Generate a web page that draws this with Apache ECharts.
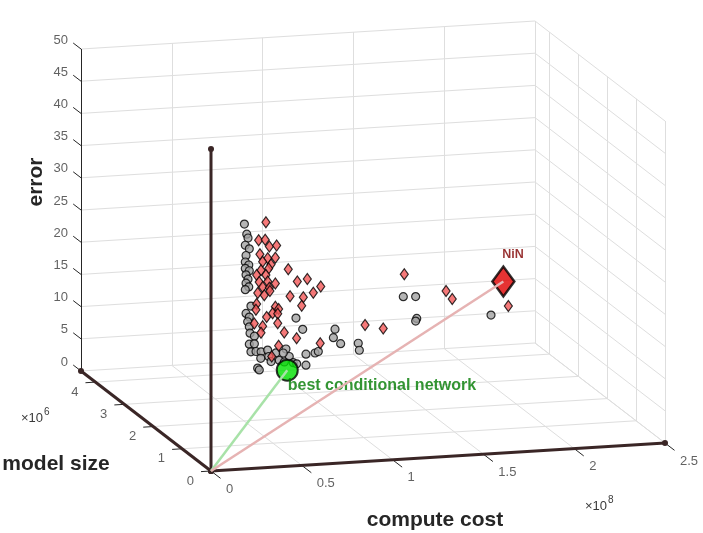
<!DOCTYPE html>
<html>
<head>
<meta charset="utf-8">
<script src="https://cdn.jsdelivr.net/npm/echarts@6/dist/echarts.min.js"></script>
<style>
  html, body { margin: 0; padding: 0; background: #fff; }
  #chart { width: 703px; height: 533px; }
</style>
</head>
<body>
<div id="chart"></div>
<script>
// ---------------- data (compute cost x1e8, model size x1e6, error %) ----------------
var costTicks  = [0, 0.5, 1, 1.5, 2, 2.5];
var modelTicks = [0, 1, 2, 3, 4];
var errorTicks = [0, 5, 10, 15, 20, 25, 30, 35, 40, 45, 50];

// conditional networks (grey circles)
var grayCost  = [0.343,0.356,0.363,0.348,0.370,0.352,0.348,0.367,0.348,0.370,0.352,0.363,0.352,0.367,0.348,
                 0.379,0.352,0.370,0.361,0.370,0.374,0.398,0.370,0.398,0.379,0.407,0.435,0.471,0.477,0.517,
                 0.535,0.416,0.425,0.572,0.590,0.612,0.490,0.563,0.627,0.664,0.682,0.732,0.750,0.842,0.833,
                 0.873,0.970,0.976,1.218,1.286,1.292,1.286,1.701,0.631,0.433,0.557,0.682];
var grayModel = [1.0,1.0,1.0,1.0,1.0,1.0,1.0,1.0,1.0,1.0,1.0,1.0,1.0,1.0,1.0,
                 1.0,1.0,1.0,1.0,1.0,1.0,1.0,1.0,1.0,1.0,1.0,1.0,1.0,1.0,1.0,
                 1.0,1.0,1.0,1.0,1.0,1.0,1.0,1.0,1.0,1.0,1.0,1.0,1.0,1.0,1.0,
                 1.0,1.0,1.0,1.0,1.0,1.0,1.0,1.0,1.0,1.0,1.0,1.0];
var grayError = [34.3,32.7,32.1,31.0,30.4,29.4,28.4,27.9,27.4,27.0,26.4,25.7,25.1,24.5,24.1,
                 21.5,20.4,19.8,19.1,18.3,17.3,16.8,15.6,15.6,14.4,14.4,14.3,14.5,13.5,14.0,
                 12.8,11.8,11.5,14.5,13.3,12.3,12.7,12.5,19.2,17.4,11.8,13.6,13.8,17.1,15.8,
                 14.8,14.7,13.6,21.5,21.4,18.0,17.6,17.8,12.1,13.3,13.9,13.5];

// other networks (red diamonds)
var redCost  = [0.541,0.501,0.537,0.560,0.600,0.508,0.551,0.523,0.593,0.569,0.556,0.514,0.664,0.490,0.541,
                0.504,0.551,0.593,0.523,0.560,0.714,0.769,0.843,0.802,0.674,0.747,0.496,0.532,0.563,0.738,
                0.490,0.486,0.593,0.611,0.578,0.545,0.606,0.477,0.523,0.606,0.514,0.642,0.710,0.611,0.840,
                0.573,1.303,1.533,1.567,1.087,1.187,1.876];
var redModel = [1.5,1.5,1.5,1.5,1.5,1.5,1.5,1.5,1.5,1.5,1.5,1.5,1.5,1.5,1.5,
                1.5,1.5,1.5,1.5,1.5,1.5,1.5,1.5,1.5,1.5,1.5,1.5,1.5,1.5,1.5,
                1.5,1.5,1.5,1.5,1.5,1.5,1.5,1.5,1.5,1.5,1.5,1.5,1.5,1.5,1.5,
                1.5,1.5,1.5,1.5,1.5,1.5,1.5];
var redError = [32.5,29.8,29.8,28.7,28.8,27.6,26.9,26.4,26.9,25.9,25.3,25.1,25.0,24.4,24.3,
                23.3,23.3,22.9,22.5,22.3,23.0,23.3,22.0,21.1,20.8,20.5,21.6,21.2,21.8,19.2,
                19.9,19.0,19.3,18.9,18.3,17.8,18.2,16.9,16.4,16.7,15.4,15.2,14.2,13.2,13.2,
                11.6,23.1,20.1,18.8,15.6,14.9,17.2];

var bestPoint = [0.579, 1.0, 11.2];   // best conditional network
var ninPoint  = [1.769, 1.0, 22.9];   // NiN

// ---------------- view (orthographic, MATLAB default-like) ----------------
var COST_MAX = 2.5, MODEL_MAX = 4.5, ERR_MAX = 50;
var O = [211, 471], EX = [454, -28], EY = [-130, -100], EZ = [0, -322];
function proj(c, m, e) {
    var a = c / COST_MAX, b = m / MODEL_MAX, d = e / ERR_MAX;
    return [O[0] + EX[0] * a + EY[0] * b + EZ[0] * d,
            O[1] + EX[1] * a + EY[1] * b + EZ[1] * d];
}
function seg(p, q) { return { coords: [proj(p[0], p[1], p[2]), proj(q[0], q[1], q[2])] }; }

// grid on back wall, side wall and floor
var gridSegs = [];
costTicks.forEach(function (c) {
    gridSegs.push(seg([c, MODEL_MAX, 0], [c, MODEL_MAX, ERR_MAX]));
    gridSegs.push(seg([c, 0, 0], [c, MODEL_MAX, 0]));
});
modelTicks.forEach(function (m) {
    gridSegs.push(seg([COST_MAX, m, 0], [COST_MAX, m, ERR_MAX]));
    gridSegs.push(seg([0, m, 0], [COST_MAX, m, 0]));
});
errorTicks.forEach(function (e) {
    gridSegs.push(seg([0, MODEL_MAX, e], [COST_MAX, MODEL_MAX, e]));
    gridSegs.push(seg([COST_MAX, 0, e], [COST_MAX, MODEL_MAX, e]));
});

// tick marks + z ruler
var tickSegs = [seg([0, MODEL_MAX, 0], [0, MODEL_MAX, ERR_MAX])];
costTicks.forEach(function (c) { tickSegs.push(seg([c, 0, 0], [c, -0.33, 0])); });
modelTicks.forEach(function (m) { tickSegs.push(seg([0, m, 0], [-0.055, m, 0])); });
errorTicks.forEach(function (e) { tickSegs.push(seg([0, MODEL_MAX, e], [0, MODEL_MAX + 0.27, e])); });

function pts(cs, ms, es) {
    return cs.map(function (c, i) { return proj(c, ms[i], es[i]); });
}

var FONT = 'Liberation Sans';
function tickLabels(items, pos, align) {
    return {
        type: 'scatter', symbolSize: 0.1, silent: true, z: 5,
        itemStyle: { color: 'transparent' },
        data: items,
        label: {
            show: true, formatter: '{b}', position: pos, align: align, verticalAlign: 'middle',
            fontFamily: FONT, fontSize: 13, color: '#3a3a3a'
        }
    };
}

var brown = '#3a2626';
function axisLine(p) {
    return {
        type: 'line', silent: true, z: 4,
        data: [proj(0, 0, 0), proj(p[0], p[1], p[2])],
        symbol: 'circle', symbolSize: 6, showSymbol: true,
        lineStyle: { color: brown, width: 3 },
        itemStyle: { color: brown, borderWidth: 0 }
    };
}

var chart = echarts.init(document.getElementById('chart'));
var option = {
    animation: false,
    backgroundColor: '#fff',
    grid: { left: 0, right: 0, top: 0, bottom: 0 },
    xAxis: { type: 'value', min: 0, max: 703, show: false },
    yAxis: { type: 'value', min: 0, max: 533, inverse: true, show: false },
    series: [
        { type: 'lines', coordinateSystem: 'cartesian2d', silent: true, z: 1,
          data: gridSegs, lineStyle: { color: '#dedede', width: 1, opacity: 1 } },
        { type: 'lines', coordinateSystem: 'cartesian2d', silent: true, z: 2,
          data: tickSegs, lineStyle: { color: '#262626', width: 1, opacity: 1 } },
        axisLine([COST_MAX, 0, 0]),
        axisLine([0, MODEL_MAX, 0]),
        axisLine([0, 0, ERR_MAX]),
        { type: 'scatter', z: 6, symbol: 'circle', symbolSize: 8,
          itemStyle: { color: '#a3a3a3', borderColor: '#000', borderWidth: 1.2 },
          data: pts(grayCost, grayModel, grayError) },
        { type: 'scatter', z: 6, symbol: 'diamond', symbolSize: [8, 11],
          itemStyle: { color: '#f25858', borderColor: '#000', borderWidth: 1.2 },
          data: pts(redCost, redModel, redError) },
        { type: 'scatter', z: 7, symbol: 'circle', symbolSize: 21,
          itemStyle: { color: '#00e000', borderColor: '#000', borderWidth: 2 },
          data: [proj(bestPoint[0], bestPoint[1], bestPoint[2])],
          label: { show: true, formatter: 'best conditional network', position: [12, 27],
                   align: 'left', verticalAlign: 'middle',
                   fontFamily: FONT, fontWeight: 'bold', fontSize: 16, color: '#007a00' } },
        { type: 'scatter', z: 7, symbol: 'diamond', symbolSize: [22, 30],
          itemStyle: { color: '#e00000', borderColor: '#000', borderWidth: 2.5 },
          data: [proj(ninPoint[0], ninPoint[1], ninPoint[2])],
          label: { show: true, formatter: 'NiN', position: [11, -10],
                   align: 'left', verticalAlign: 'middle',
                   fontFamily: FONT, fontWeight: 'bold', fontSize: 12.5, color: '#800000' } },
        { type: 'line', z: 8, silent: true, symbol: 'none',
          data: [proj(0, 0, 0), proj(bestPoint[0], bestPoint[1], bestPoint[2])],
          lineStyle: { color: '#a8e2a8', width: 2.5 } },
        { type: 'line', z: 8, silent: true, symbol: 'none',
          data: [proj(0, 0, 0), proj(ninPoint[0], ninPoint[1], ninPoint[2])],
          lineStyle: { color: '#e6b3b3', width: 2.5 } },
        tickLabels(costTicks.map(function (c) { return { name: String(c), value: proj(c, 0, 0) }; }), [15, 18], 'left'),
        tickLabels(modelTicks.map(function (m) { return { name: String(m), value: proj(0, m, 0) }; }), [-17, 10], 'right'),
        tickLabels(errorTicks.map(function (e) { return { name: String(e), value: proj(0, MODEL_MAX, e) }; }), [-13, -9], 'right')
    ],
    graphic: [
        { type: 'text', x: 36, y: 182, rotation: Math.PI / 2,
          style: { text: 'error', font: 'bold 21px "Liberation Sans"', fill: '#262626', textAlign: 'center', textVerticalAlign: 'middle' } },
        { type: 'text', x: 56, y: 464,
          style: { text: 'model size', font: 'bold 21px "Liberation Sans"', fill: '#262626', textAlign: 'center', textVerticalAlign: 'middle' } },
        { type: 'text', x: 435, y: 520,
          style: { text: 'compute cost', font: 'bold 21px "Liberation Sans"', fill: '#262626', textAlign: 'center', textVerticalAlign: 'middle' } },
        { type: 'text', x: 21, y: 418,
          style: { text: '\u00d710', font: '13px "Liberation Sans"', fill: '#3a3a3a', textVerticalAlign: 'middle' } },
        { type: 'text', x: 44, y: 412,
          style: { text: '6', font: '10px "Liberation Sans"', fill: '#3a3a3a', textVerticalAlign: 'middle' } },
        { type: 'text', x: 585, y: 506,
          style: { text: '\u00d710', font: '13px "Liberation Sans"', fill: '#3a3a3a', textVerticalAlign: 'middle' } },
        { type: 'text', x: 608, y: 500,
          style: { text: '8', font: '10px "Liberation Sans"', fill: '#3a3a3a', textVerticalAlign: 'middle' } }
    ]
};
chart.setOption(option);
</script>
</body>
</html>
